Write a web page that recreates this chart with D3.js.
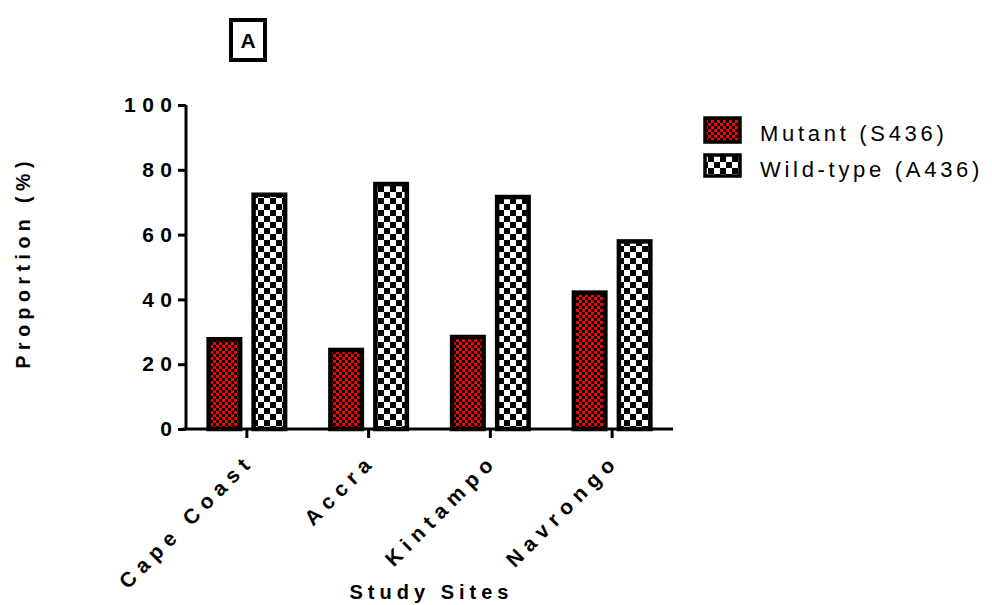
<!DOCTYPE html>
<html><head><meta charset="utf-8">
<script src="https://cdn.jsdelivr.net/npm/d3@7"></script>
<style>body{margin:0;background:#fff;} text{font-family:"Liberation Sans",Arial,sans-serif;}</style>
</head><body>
<svg id="c" width="992" height="605"></svg>
<script>
const categories = ["Cape Coast", "Accra", "Kintampo", "Navrongo"];
const seriesNames = ["Mutant (S436)", "Wild-type (A436)"];
const mutant = [27.7, 24.4, 28.4, 42.1];
const wildType = [72.3, 75.6, 71.6, 57.9];
const yTicks = [0, 20, 40, 60, 80, 100];

const svg = d3.select("#c");
const defs = svg.append("defs");
// red/black fine checker
const pr = defs.append("pattern").attr("id","pRed").attr("patternUnits","userSpaceOnUse").attr("width",6).attr("height",6);
pr.append("rect").attr("width",6).attr("height",6).attr("fill","#ff0000");
pr.append("rect").attr("width",3).attr("height",3).attr("fill","#000");
pr.append("rect").attr("x",3).attr("y",3).attr("width",3).attr("height",3).attr("fill","#000");
// black/white coarse checker
const pw = defs.append("pattern").attr("id","pWild").attr("patternUnits","userSpaceOnUse").attr("width",12).attr("height",12);
pw.append("rect").attr("width",12).attr("height",12).attr("fill","#fff");
pw.append("rect").attr("width",6).attr("height",6).attr("fill","#000");
pw.append("rect").attr("x",6).attr("y",6).attr("width",6).attr("height",6).attr("fill","#000");
const fills = ["url(#pRed)","url(#pWild)"];

const x0 = d3.scaleBand().domain(categories).range([186, 673]).paddingInner(0).paddingOuter(0);
const x1 = d3.scaleBand().domain(seriesNames).range([0, x0.bandwidth()]).paddingInner(0.3).paddingOuter(0.503);
const y = d3.scaleLinear().domain([0, 100]).range([429, 105]);

const data = categories.map((c,i)=>({cat:c, vals:[mutant[i], wildType[i]]}));

// bars
const g = svg.append("g");
data.forEach(d=>{
  d.vals.forEach((v,j)=>{
    g.append("rect")
      .attr("x", x0(d.cat) + x1(seriesNames[j]))
      .attr("y", y(v))
      .attr("width", x1.bandwidth())
      .attr("height", y(0) - y(v))
      .attr("fill", fills[j])
      .attr("stroke", "#000").attr("stroke-width", 4.5);
  });
});

// y axis
const yAxis = svg.append("g").attr("transform","translate(186,0)")
  .call(d3.axisLeft(y).tickValues(yTicks).tickSize(8).tickPadding(6).tickFormat(d3.format("d")));
yAxis.select(".domain").attr("stroke-width",3).attr("d","M0,105V429");
yAxis.selectAll(".tick line").attr("stroke-width",3);
yAxis.selectAll(".tick text").attr("font-size",21).attr("font-weight","bold").attr("letter-spacing","6.5px").attr("dx","6.5px").attr("fill","#000");

// x axis
const xAxis = svg.append("g").attr("transform","translate(0,429)")
  .call(d3.axisBottom(x0).tickSize(9).tickFormat(""));
xAxis.select(".domain").attr("stroke-width",3).attr("d","M183,0H673");
xAxis.selectAll(".tick line").attr("stroke-width",3);
xAxis.selectAll(".tick").append("text")
  .attr("transform","translate(4,38) rotate(-45)")
  .attr("text-anchor","end").attr("font-size",21).attr("font-weight","bold")
  .attr("letter-spacing","6.5px").attr("dx","6.5px").attr("fill","#000")
  .text(d=>d);

// axis titles
svg.append("text").attr("x",429).attr("y",599).attr("text-anchor","middle")
  .attr("font-size",20).attr("font-weight","bold").attr("letter-spacing","5px").attr("dx","2.5px")
  .text("Study Sites");
svg.append("text").attr("transform","translate(30,265) rotate(-90)").attr("text-anchor","middle")
  .attr("font-size",19.5).attr("font-weight","bold").attr("letter-spacing","5.5px").attr("dx","2.75px")
  .text("Proportion (%)");

// panel label
svg.append("rect").attr("x",231).attr("y",20).attr("width",34).attr("height",40)
  .attr("fill","none").attr("stroke","#000").attr("stroke-width",4);
svg.append("text").attr("x",248).attr("y",48).attr("text-anchor","middle")
  .attr("font-size",21).attr("font-weight","bold").text("A");

// legend
const leg = svg.append("g");
const swY = [118, 155];
const swH = [24, 21];
seriesNames.forEach((s,i)=>{
  leg.append("rect").attr("x",705).attr("y",swY[i]).attr("width",35).attr("height",swH[i])
    .attr("fill",fills[i]).attr("stroke","#000").attr("stroke-width",3.5);
  leg.append("text").attr("x",760).attr("y",[141,177][i]).attr("font-size",22)
    .attr("letter-spacing","3.7px").attr("fill","#000").text(s);
});
</script>
</body></html>
